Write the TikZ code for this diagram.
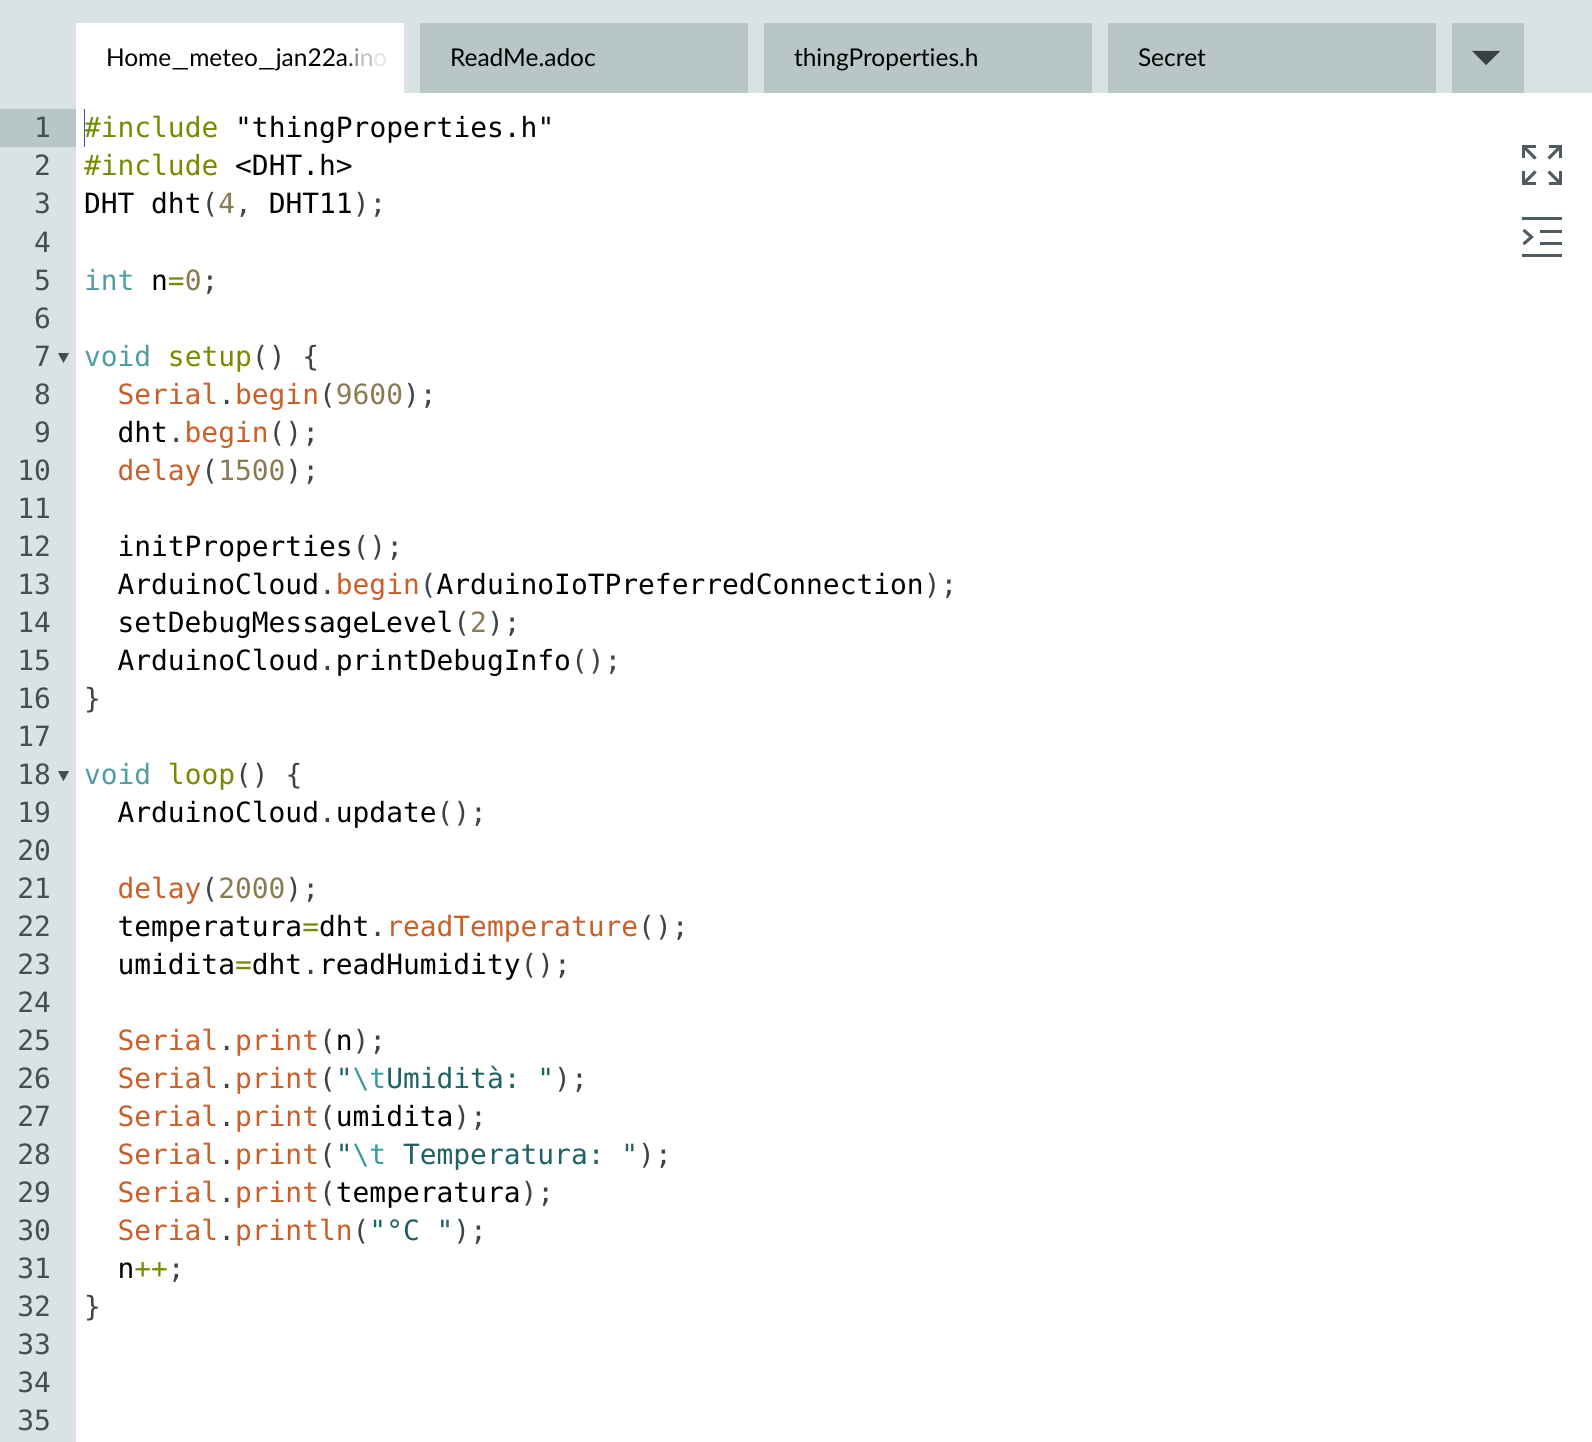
\documentclass[tikz,border=0pt]{standalone}
\usepackage{fontspec}
\setmainfont[Ligatures=NoCommon]{Lato}
\newfontfamily\codefont[Ligatures=NoCommon]{DejaVu Sans Mono}
\frenchspacing
\definecolor{gutterbg}{HTML}{DAE3E3}
\definecolor{tabbg}{HTML}{B8C6C6}
\definecolor{cpn}{HTML}{3A4549}
\definecolor{cnumgut}{HTML}{434F54}
\definecolor{ckw}{HTML}{4F9EA3}
\definecolor{cgr}{HTML}{728E00}
\definecolor{cfn}{HTML}{C9602A}
\definecolor{cnum}{HTML}{8A7B52}
\definecolor{cstr}{HTML}{1F6266}
\definecolor{cesc}{HTML}{3A9CA1}
\definecolor{cicon}{HTML}{4E5B61}
\newcommand{\kw}[1]{\textcolor{ckw}{#1}}
\newcommand{\gr}[1]{\textcolor{cgr}{#1}}
\newcommand{\fn}[1]{\textcolor{cfn}{#1}}
\newcommand{\nm}[1]{\textcolor{cnum}{#1}}
\newcommand{\st}[1]{\textcolor{cstr}{#1}}
\newcommand{\es}[1]{\textcolor{cesc}{#1}}
\newcommand{\pn}[1]{\textcolor{cpn}{#1}}
\newcommand{\wideus}{\scalebox{1.6}[1]{\_}}
\tikzset{
  codefontstyle/.style={font=\codefont\frenchspacing\fontsize{27.9}{30}\selectfont,inner sep=0pt,outer sep=0pt},
  codeline/.style={codefontstyle,anchor=base west,text=black},
  lineno/.style={codefontstyle,anchor=base east,text=cnumgut},
  tabbox/.style={fill=tabbg,draw=none},
  tablabel/.style={font=\fontsize{24.5}{28}\selectfont,inner sep=0pt,outer sep=0pt,anchor=base west,text=black},
  iconline/.style={draw=cicon,line width=3pt},
  foldmark/.style={fill=cnumgut,draw=none},
}
\begin{document}
\begin{tikzpicture}[x=1pt,y=-1pt]
\useasboundingbox (0,0) rectangle (1592,1442);
\fill[white] (0,0) rectangle (1592,1442);
% header and gutter
\fill[gutterbg] (0,0) rectangle (1592,93);
\fill[gutterbg] (0,93) rectangle (76,1442);
\fill[tabbg] (0,109) rectangle (76,147);
% tabs
\fill[white] (76,23) rectangle (404,93);
\fill[tabbox] (420,23) rectangle (748,93);
\fill[tabbox] (764,23) rectangle (1092,93);
\fill[tabbox] (1108,23) rectangle (1436,93);
\fill[tabbox] (1452,23) rectangle (1524,93);
\begin{scope}
\clip (76,23) rectangle (388,93);
\node[tablabel] (tab1) at (106,67) {Home\wideus meteo\wideus jan22a\textcolor{black!80}{.}\textcolor{black!45}{i}\textcolor{black!25}{n}\textcolor{black!10}{o}};
\end{scope}
\node[tablabel] (tab2) at (450,67) {ReadMe.adoc};
\node[tablabel] (tab3) at (794,67) {thingProperties.h};
\node[tablabel] (tab4) at (1138,67) {Secret};
\fill[cicon!70!black] (1472,51) -- (1500,51) -- (1486,65) -- cycle;
% line numbers
\foreach \n in {1,...,35}{
  \pgfmathsetmacro{\yy}{138+38*(\n-1)}
  \node[lineno] (num\n) at (51,\yy) {\n};
}
\fill[foldmark] (58,353) -- (69,353) -- (63.5,363) -- cycle;
\fill[foldmark] (58,771) -- (69,771) -- (63.5,781) -- cycle;
% caret
\draw[color=blue!45!gray,line width=1pt] (84.5,109) -- (84.5,147);
% code
\node[codeline] (l1) at (84,138) {\gr{\#include} "thingProperties.h"};
\node[codeline] (l2) at (84,176) {\gr{\#include} <DHT.h>};
\node[codeline] (l3) at (84,214) {DHT dht\pn{(}\nm{4}\pn{,} DHT11\pn{);}};
\node[codeline] (l5) at (84,290) {\kw{int} n\gr{=}\nm{0}\pn{;}};
\node[codeline] (l7) at (84,366) {\kw{void} \gr{setup}\pn{() \{}};
\node[codeline] (l8) at (117.5,404) {\fn{Serial}\pn{.}\fn{begin}\pn{(}\nm{9600}\pn{);}};
\node[codeline] (l9) at (117.5,442) {dht\pn{.}\fn{begin}\pn{();}};
\node[codeline] (l10) at (117.5,480) {\fn{delay}\pn{(}\nm{1500}\pn{);}};
\node[codeline] (l12) at (117.5,556) {initProperties\pn{();}};
\node[codeline] (l13) at (117.5,594) {ArduinoCloud\pn{.}\fn{begin}\pn{(}ArduinoIoTPreferredConnection\pn{);}};
\node[codeline] (l14) at (117.5,632) {setDebugMessageLevel\pn{(}\nm{2}\pn{);}};
\node[codeline] (l15) at (117.5,670) {ArduinoCloud\pn{.}printDebugInfo\pn{();}};
\node[codeline] (l16) at (84,708) {\pn{\}}};
\node[codeline] (l18) at (84,784) {\kw{void} \gr{loop}\pn{() \{}};
\node[codeline] (l19) at (117.5,822) {ArduinoCloud\pn{.}update\pn{();}};
\node[codeline] (l21) at (117.5,898) {\fn{delay}\pn{(}\nm{2000}\pn{);}};
\node[codeline] (l22) at (117.5,936) {temperatura\gr{=}dht\pn{.}\fn{readTemperature}\pn{();}};
\node[codeline] (l23) at (117.5,974) {umidita\gr{=}dht\pn{.}readHumidity\pn{();}};
\node[codeline] (l25) at (117.5,1050) {\fn{Serial}\pn{.}\fn{print}\pn{(}n\pn{);}};
\node[codeline] (l26) at (117.5,1088) {\fn{Serial}\pn{.}\fn{print}\pn{(}\st{"}\es{\textbackslash t}\st{Umidità: "}\pn{);}};
\node[codeline] (l27) at (117.5,1126) {\fn{Serial}\pn{.}\fn{print}\pn{(}umidita\pn{);}};
\node[codeline] (l28) at (117.5,1164) {\fn{Serial}\pn{.}\fn{print}\pn{(}\st{"}\es{\textbackslash t} \st{Temperatura: "}\pn{);}};
\node[codeline] (l29) at (117.5,1202) {\fn{Serial}\pn{.}\fn{print}\pn{(}temperatura\pn{);}};
\node[codeline] (l30) at (117.5,1240) {\fn{Serial}\pn{.}\fn{println}\pn{(}\st{"°C "}\pn{);}};
\node[codeline] (l31) at (117.5,1278) {n\gr{++}\pn{;}};
\node[codeline] (l32) at (84,1316) {\pn{\}}};
% fullscreen icon
\foreach \sx/\sy/\cx/\cy in {1/1/1523.5/146.5, -1/1/1560.5/146.5, 1/-1/1523.5/183.5, -1/-1/1560.5/183.5}{
  \draw[iconline,line cap=butt] (\cx+\sx*12,\cy) -- (\cx,\cy) -- (\cx,\cy+\sy*12);
  \draw[iconline] (\cx,\cy) -- (\cx+\sx*12,\cy+\sy*12);
}
% indent icon
\draw[iconline] (1522,218.5) -- (1562,218.5);
\draw[iconline] (1540,231) -- (1562,231);
\draw[iconline] (1540,243.5) -- (1562,243.5);
\draw[iconline] (1522,255.5) -- (1562,255.5);
\draw[iconline] (1523.5,230) -- (1531.5,237) -- (1523.5,244);
\end{tikzpicture}
\end{document}
